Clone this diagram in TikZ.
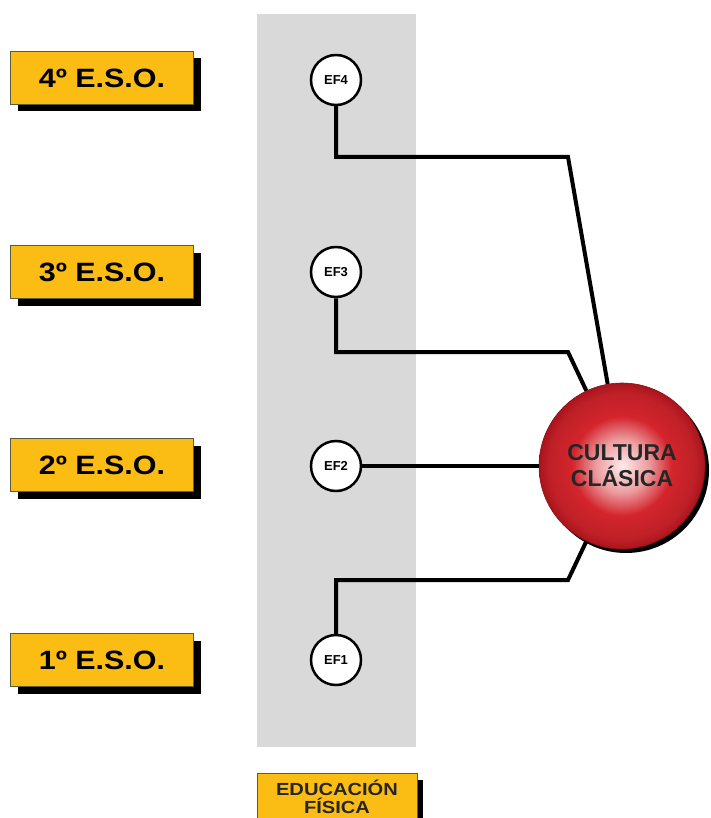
\documentclass[tikz,border=0pt]{standalone}
\usepackage{fontspec}
\setmainfont{Liberation Sans}
\newfontfamily\widesans[FakeStretch=1.15]{Liberation Sans}
\usetikzlibrary{positioning, shadows}
\definecolor{esoyellow}{RGB}{251,188,20}
\definecolor{boxedge}{RGB}{90,90,60}
\definecolor{ballred}{RGB}{212,36,44}
\definecolor{balldark}{RGB}{170,20,28}
\pgfdeclareradialshading{redball}{\pgfpoint{0bp}{0bp}}{color(0bp)=(white!92!red); color(8bp)=(ballred!45!white); color(15bp)=(ballred); color(22bp)=(ballred!90!black); color(25bp)=(balldark); color(50bp)=(balldark)}

\begin{document}
\begin{tikzpicture}[x=1pt, y=-1pt,
    course/.style={draw=boxedge, line width=1pt, fill=esoyellow, minimum width=183pt, minimum height=53pt, inner sep=0pt,
        font=\widesans\fontsize{26.5}{30}\selectfont\bfseries,
        drop shadow={shadow xshift=7pt, shadow yshift=-7pt, fill=black, opacity=1}},
    subj/.style={circle, draw=black, line width=2.5pt, fill=white, minimum size=50pt, inner sep=0pt,
        font=\fontsize{13}{15}\selectfont\bfseries},
    link/.style={line width=4pt, line join=miter}]
    \useasboundingbox (0,0) rectangle (710,818);

    % Grey band of the subject
    \fill[gray!30] (257,14) rectangle (416,747);
    \coordinate (band_bottom) at (337,747);

    % Course labels
    \node[course] (eso4) at (102,78) {4º E.S.O.};
    \node[course] (eso3) at (102,272) {3º E.S.O.};
    \node[course] (eso2) at (102,465) {2º E.S.O.};
    \node[course] (eso1) at (102,660) {1º E.S.O.};

    % Subject label under the band
    \node[below=26pt of band_bottom, anchor=north, draw=boxedge, line width=1pt, fill=esoyellow,
        minimum width=160pt, minimum height=46pt, inner sep=0pt, align=center,
        font=\widesans\fontsize{17.5}{18}\selectfont\bfseries, text=black!85,
        drop shadow={shadow xshift=6pt, shadow yshift=-6pt, fill=black, opacity=1}] (edfis) {EDUCACIÓN\\FÍSICA};

    % Central ball
    \node[circle, minimum size=166pt, inner sep=0pt, shading=redball, draw=balldark!80!black, line width=0.6pt,
        align=center, font=\fontsize{23}{26}\selectfont\bfseries, text=black!85,
        drop shadow={shadow xshift=4pt, shadow yshift=-4pt, fill=black, opacity=1}] (cultura) at (622,466) {CULTURA\\CLÁSICA};

    % Bends of the connectors
    \coordinate (bend4) at (568,157);
    \coordinate (bend3) at (568,352);
    \coordinate (bend1) at (568,580);

    % Subject circles
    \node[subj] (ef4) at (336,80) {EF4};
    \node[subj] (ef3) at (336,272) {EF3};
    \node[subj] (ef2) at (336,466) {EF2};
    \node[subj] (ef1) at (336,660) {EF1};

    % Connectors
    \draw[link] (ef4) |- (bend4) -- (cultura);
    \draw[link] (ef3) |- (bend3) -- (cultura);
    \draw[link] (ef2) -- (cultura);
    \draw[link] (ef1) |- (bend1) -- (cultura);
\end{tikzpicture}
\end{document}
